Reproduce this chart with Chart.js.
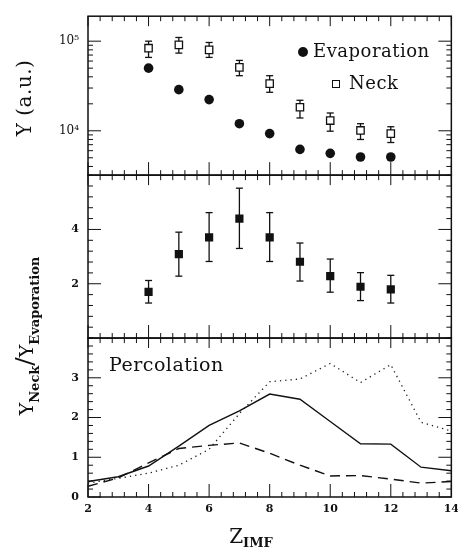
<!DOCTYPE html>
<html>
<head>
<meta charset="utf-8">
<script src="https://cdn.jsdelivr.net/npm/chart.js@4.4.0/dist/chart.umd.min.js"></script>
<style>
  body { margin: 0; background: #fff; overflow: hidden; width: 458px; height: 550px; position: relative; font-family: 'DejaVu Serif', serif; color: #111; }
  #c { position: absolute; left: 0; top: 0; }
  .lbl { position: absolute; white-space: nowrap; line-height: 1; }
  .rot { transform: translate(-50%, -50%) rotate(-90deg); }
  .lbl sub { font-size: 13px; font-weight: bold; vertical-align: -6px; }
  .mark { position: absolute; box-sizing: border-box; }
</style>
</head>
<body>
<canvas id="c" width="465" height="550"></canvas>

<div class="lbl rot" style="left:24px; top:98px; font-size:20px; letter-spacing:0.5px;">Y (a.u.)</div>
<div class="lbl rot" style="left:26px; top:336px; font-size:19px;">Y<sub>Neck</sub><span style="font-size:25px">/</span>Y<sub>Evaporation</sub></div>
<div class="lbl" style="left:251px; top:526px; font-size:20px; transform:translateX(-50%);">Z<sub style="vertical-align:-4px">IMF</sub></div>

<div class="mark" style="left:298px; top:47px; width:10px; height:10px; border-radius:50%; background:#111;"></div>
<div class="lbl" style="left:313px; top:42px; font-size:18px; letter-spacing:0.5px;">Evaporation</div>
<div class="mark" style="left:332px; top:80px; width:8px; height:8px; border:1.3px solid #111;"></div>
<div class="lbl" style="left:349px; top:74px; font-size:18px; letter-spacing:0.5px;">Neck</div>
<div class="lbl" style="left:109px; top:355px; font-size:19px; letter-spacing:0.5px;">Percolation</div>

<script>
// measured data (Z of the fragment)
const zValues = [4, 5, 6, 7, 8, 9, 10, 11, 12];
const evaporation = [50000, 28800, 22300, 12000, 9300, 6200, 5600, 5100, 5100];
const neck = [83600, 91000, 80000, 51000, 33600, 18300, 13000, 10100, 9300];
const neckLow = [65900, 73600, 65900, 41200, 26900, 13900, 9900, 8000, 7400];
const neckHigh = [100000, 110000, 96700, 61000, 41200, 21900, 15800, 12000, 11100];

const ratio = [1.70, 3.09, 3.71, 4.40, 3.71, 2.81, 2.28, 1.89, 1.79];
const ratioLow = [1.29, 2.28, 2.82, 3.30, 2.82, 2.10, 1.69, 1.38, 1.29];
const ratioHigh = [2.12, 3.90, 4.62, 5.52, 4.62, 3.50, 2.91, 2.41, 2.31];

// percolation model curves
const zModel = [2, 3, 4, 5, 6, 7, 8, 9, 10, 11, 12, 13, 14];
const percSolid = [0.39, 0.51, 0.78, 1.28, 1.80, 2.17, 2.59, 2.46, 1.90, 1.34, 1.33, 0.75, 0.66];
const percDashed = [0.27, 0.48, 0.86, 1.22, 1.30, 1.36, 1.10, 0.80, 0.53, 0.54, 0.45, 0.35, 0.39];
const percDotted = [0.35, 0.47, 0.60, 0.80, 1.20, 2.10, 2.90, 2.97, 3.36, 2.88, 3.33, 1.88, 1.66];

// tick labels
const xTicks = [2, 4, 6, 8, 10, 12, 14];
const topTicks = [10000, 100000];
const midTicks = [2, 4];
const botTicks = [0, 1, 2, 3];

const ink = '#111';
const pts = (xs, ys) => xs.map((x, i) => ({ x: x, y: ys[i] }));

// minor tick values for the frame
function range(a, b, step) {
    const out = [];
    for (let v = a; v <= b + 1e-9; v += step) out.push(Math.round(v * 1000) / 1000);
    return out;
}
const xMinor = range(2, 14, 0.4);
const logMinor = [];
[1000, 10000, 100000].forEach(d => { for (let k = 1; k <= 9; k++) logMinor.push(k * d); });

function line(ctx, x1, y1, x2, y2) {
    ctx.beginPath();
    ctx.moveTo(x1, y1);
    ctx.lineTo(x2, y2);
    ctx.stroke();
}

const errorBars = {
    id: 'errorBars',
    beforeDatasetsDraw(chart) {
        const ctx = chart.ctx;
        const x = chart.scales.x;
        ctx.save();
        ctx.strokeStyle = ink;
        ctx.lineWidth = 1.3;
        const draw = (scale, lo, hi) => {
            zValues.forEach((z, i) => {
                const px = x.getPixelForValue(z);
                const y1 = scale.getPixelForValue(lo[i]);
                const y2 = scale.getPixelForValue(hi[i]);
                line(ctx, px, y1, px, y2);
                line(ctx, px - 3.5, y1, px + 3.5, y1);
                line(ctx, px - 3.5, y2, px + 3.5, y2);
            });
        };
        draw(chart.scales.yTop, neckLow, neckHigh);
        draw(chart.scales.yMid, ratioLow, ratioHigh);
        ctx.restore();
    }
};

const frames = {
    id: 'frames',
    afterDatasetsDraw(chart) {
        const ctx = chart.ctx;
        const x = chart.scales.x;
        const panels = [
            { s: chart.scales.yTop, minor: logMinor, major: topTicks },
            { s: chart.scales.yMid, minor: range(0, 6, 0.4), major: midTicks },
            { s: chart.scales.yBot, minor: range(0, 4, 0.2), major: botTicks }
        ];
        ctx.save();
        ctx.strokeStyle = ink;
        panels.forEach(p => {
            const s = p.s;
            const top = s.top, bottom = s.bottom, left = x.left, right = x.right;
            ctx.lineWidth = 1;
            xMinor.forEach(v => {
                const px = x.getPixelForValue(v);
                const big = xTicks.includes(v);
                line(ctx, px, bottom, px, bottom - (big ? 13 : 5));
                line(ctx, px, top, px, top + (big ? 10 : 5));
            });
            p.minor.forEach(v => {
                if (v < s.min || v > s.max) return;
                const py = s.getPixelForValue(v);
                const big = p.major.includes(v);
                line(ctx, left, py, left + (big ? 13 : 5), py);
                line(ctx, right, py, right - (big ? 13 : 5), py);
            });
            ctx.lineWidth = 1.5;
            ctx.strokeRect(left, top, right - left, bottom - top);
        });
        ctx.restore();
    }
};

const tickFont = { family: 'DejaVu Serif', size: 11, weight: 'bold' };

function yAxis(extra) {
    return Object.assign({
        position: 'left',
        stack: 'panels',
        grid: { display: false, drawTicks: false },
        border: { display: false },
        ticks: { font: tickFont, color: ink, padding: 9, autoSkip: false },
        afterFit: s => { s.width = 88; }
    }, extra);
}

new Chart(document.getElementById('c'), {
    type: 'scatter',
    data: {
        datasets: [
            {
                label: 'Evaporation', yAxisID: 'yTop', data: pts(zValues, evaporation),
                pointStyle: 'circle', pointRadius: 4.8, backgroundColor: ink, borderColor: ink, borderWidth: 0
            },
            {
                label: 'Neck', yAxisID: 'yTop', data: pts(zValues, neck),
                pointStyle: 'rect', pointRadius: 5.2, backgroundColor: '#fff', borderColor: ink, borderWidth: 1.3
            },
            {
                label: 'Neck/Evaporation', yAxisID: 'yMid', data: pts(zValues, ratio),
                pointStyle: 'rect', pointRadius: 5.8, backgroundColor: ink, borderColor: ink, borderWidth: 0
            },
            {
                label: 'Percolation solid', yAxisID: 'yBot', data: pts(zModel, percSolid),
                showLine: true, pointRadius: 0, borderColor: ink, borderWidth: 1.4
            },
            {
                label: 'Percolation dashed', yAxisID: 'yBot', data: pts(zModel, percDashed),
                showLine: true, pointRadius: 0, borderColor: ink, borderWidth: 1.4, borderDash: [10, 6]
            },
            {
                label: 'Percolation dotted', yAxisID: 'yBot', data: pts(zModel, percDotted),
                showLine: true, pointRadius: 0, borderColor: '#222', borderWidth: 1.3, borderDash: [1.3, 4]
            }
        ]
    },
    options: {
        responsive: false,
        animation: false,
        devicePixelRatio: 1,
        layout: { padding: { top: 13, right: 0, left: 0, bottom: 0 } },
        plugins: { legend: { display: false }, tooltip: { enabled: false } },
        scales: {
            x: {
                type: 'linear', position: 'bottom', min: 2, max: 14,
                grid: { display: false, drawTicks: false },
                border: { display: false },
                afterBuildTicks: s => { s.ticks = xTicks.map(v => ({ value: v })); },
                ticks: { font: tickFont, color: ink, padding: 6, maxRotation: 0, autoSkip: false },
                afterFit: s => { s.height = 53; }
            },
            yBot: yAxis({
                type: 'linear', min: 0, max: 4, stackWeight: 160,
                afterBuildTicks: s => { s.ticks = botTicks.map(v => ({ value: v })); }
            }),
            yMid: yAxis({
                type: 'linear', min: 0, max: 6, stackWeight: 164,
                afterBuildTicks: s => { s.ticks = midTicks.map(v => ({ value: v })); }
            }),
            yTop: yAxis({
                type: 'logarithmic', min: 3200, max: 190000, stackWeight: 160,
                afterBuildTicks: s => { s.ticks = topTicks.map(v => ({ value: v })); },
                ticks: {
                    font: { family: 'DejaVu Serif', size: 12 }, color: ink, padding: 9, autoSkip: false,
                    callback: v => (v === 100000 ? '10⁵' : v === 10000 ? '10⁴' : '')
                }
            })
        }
    },
    plugins: [errorBars, frames]
});
</script>
</body>
</html>
